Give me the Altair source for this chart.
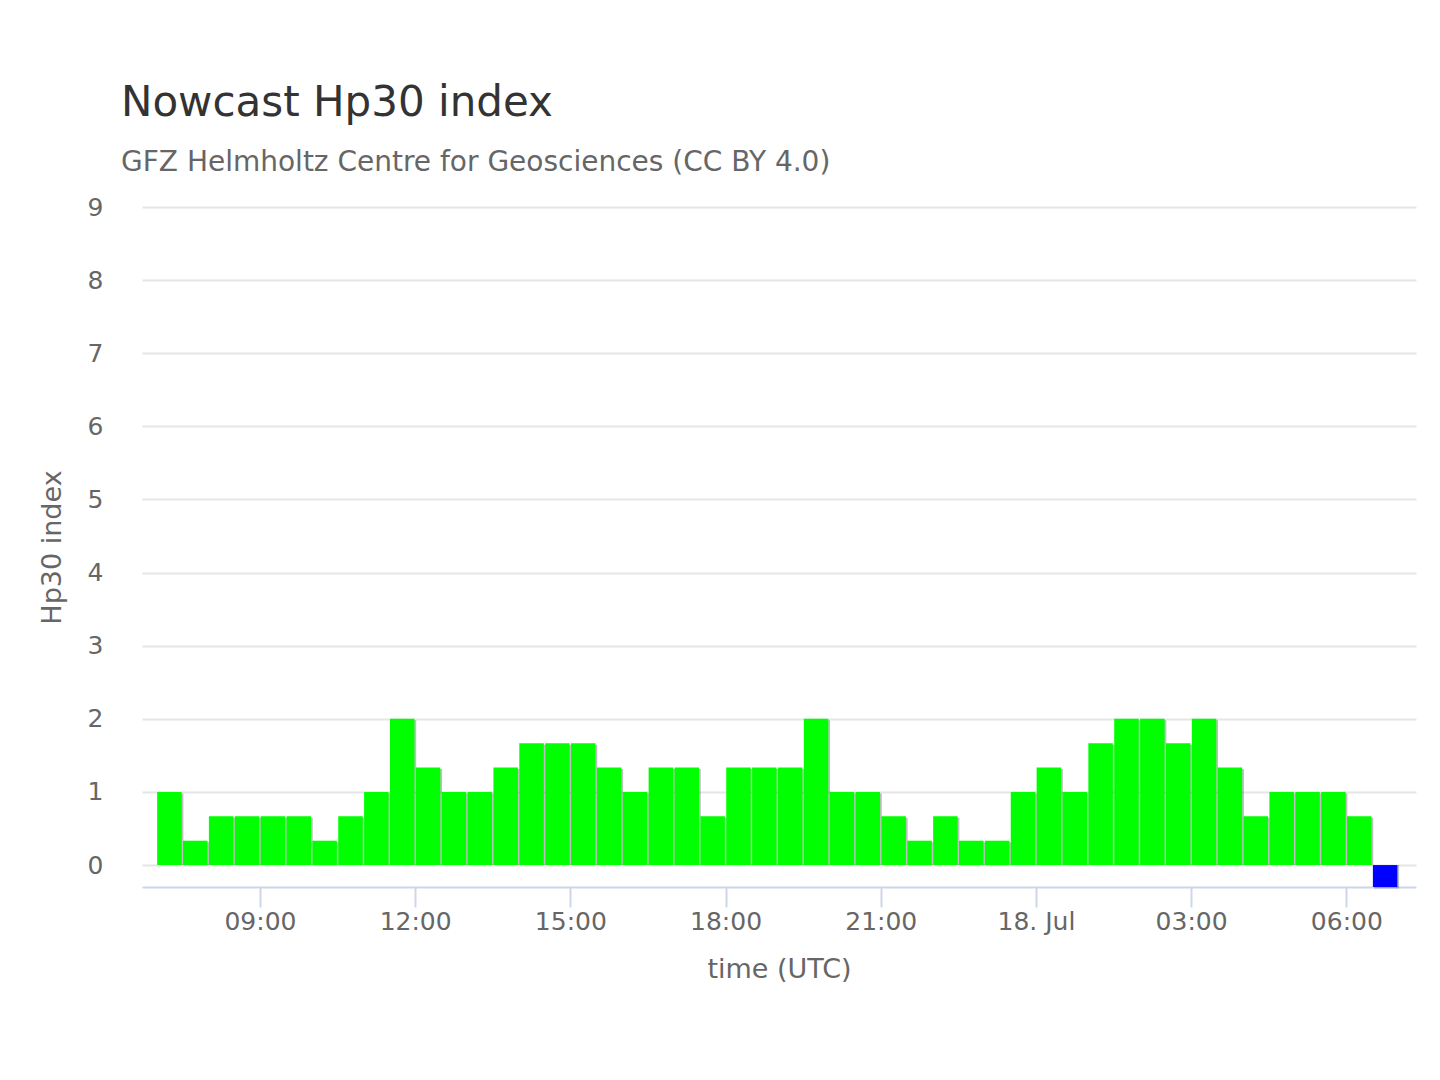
import altair as alt
import pandas as pd

# Hp30 values for each 30-minute interval starting 17 Jul 07:00 UTC
hp30 = [1.0, 0.333, 0.667, 0.667, 0.667, 0.667, 0.333, 0.667, 1.0, 2.0,
        1.333, 1.0, 1.0, 1.333, 1.667, 1.667, 1.667, 1.333, 1.0, 1.333,
        1.333, 0.667, 1.333, 1.333, 1.333, 2.0, 1.0, 1.0, 0.667, 0.333,
        0.667, 0.333, 0.333, 1.0, 1.333, 1.0, 1.667, 2.0, 2.0, 1.667,
        2.0, 1.333, 0.667, 1.0, 1.0, 1.0, 0.667, -0.3]
starts = pd.date_range("2023-07-17T07:00:00", periods=len(hp30), freq="30min")
tick_times = ["2023-07-17T09:00:00Z", "2023-07-17T12:00:00Z", "2023-07-17T15:00:00Z",
              "2023-07-17T18:00:00Z", "2023-07-17T21:00:00Z", "2023-07-18T00:00:00Z",
              "2023-07-18T03:00:00Z", "2023-07-18T06:00:00Z"]
x_domain = ["2023-07-17T06:49:00Z", "2023-07-18T07:15:00Z"]
y_ticks = [0, 1, 2, 3, 4, 5, 6, 7, 8, 9]

df = pd.DataFrame({
    "start": [t.strftime("%Y-%m-%dT%H:%M:%SZ") for t in starts],
    "hp": hp30,
})

FONT = "DejaVu Sans"

base = alt.Chart(df).transform_calculate(
    mid="toDate(datum.start) + 15*60*1000",
    status="datum.hp < 0 ? 'missing' : 'ok'",
)

x_enc = alt.X(
    "mid:T",
    scale=alt.Scale(type="utc", domain=x_domain, nice=False),
    axis=alt.Axis(
        values=tick_times,
        labelExpr="utchours(datum.value) == 0 ? utcFormat(datum.value, '%-d. %b') : utcFormat(datum.value, '%H:%M')",
        title="time (UTC)",
        grid=False,
        domainColor="#ccd6eb", domainWidth=2,
        tickColor="#ccd6eb", tickWidth=2, tickSize=20,
        labelFont=FONT, labelFontSize=25, labelColor="#666666",
        labelBaseline="alphabetic", labelPadding=22, labelFlush=False,
        titleFont=FONT, titleFontSize=27, titleColor="#666666", titleFontWeight="normal",
        titleBaseline="alphabetic", titleY=90,
    ),
)
y_enc = alt.Y(
    "hp:Q",
    scale=alt.Scale(domain=[-0.3, 9], nice=False, zero=False),
    axis=alt.Axis(
        values=y_ticks,
        title="Hp30 index",
        domain=False, ticks=False,
        gridColor="#e6e6e6", gridWidth=2,
        labelFont=FONT, labelFontSize=25, labelColor="#666666",
        labelPadding=39,
        titleFont=FONT, titleFontSize=27, titleColor="#666666", titleFontWeight="normal",
        titleBaseline="alphabetic", titleX=-82, titleY=340, titleAngle=270, titleAlign="center",
    ),
)

shadow = base.mark_bar(width=25, color="#000000", opacity=0.25, xOffset=1.5, yOffset=1.5).encode(
    x=x_enc, y=y_enc, y2=alt.datum(0)
)
bars = base.mark_bar(width=24.5).encode(
    x=x_enc,
    y=y_enc,
    y2=alt.datum(0),
    color=alt.Color("status:N", scale=alt.Scale(domain=["ok", "missing"], range=["#00ff00", "#0000ff"]), legend=None),
)

chart = alt.layer(shadow, bars).properties(
    width=1274,
    height=680,
    padding={"left": 134, "top": 199, "right": 8, "bottom": 150},
    autosize=alt.AutoSizeParams(type="none"),
    title=alt.TitleParams(
        text="Nowcast Hp30 index",
        subtitle="GFZ Helmholtz Centre for Geosciences (CC BY 4.0)",
        anchor="start", frame="group", dx=-21, offset=17,
        font=FONT, fontSize=42, fontWeight="normal", color="#333333",
        subtitleFont=FONT, subtitleFontSize=28, subtitleColor="#666666", subtitlePadding=24,
    ),
).configure_view(stroke=None)

chart.save("out.html", embed_options={"renderer": "svg", "actions": False})
